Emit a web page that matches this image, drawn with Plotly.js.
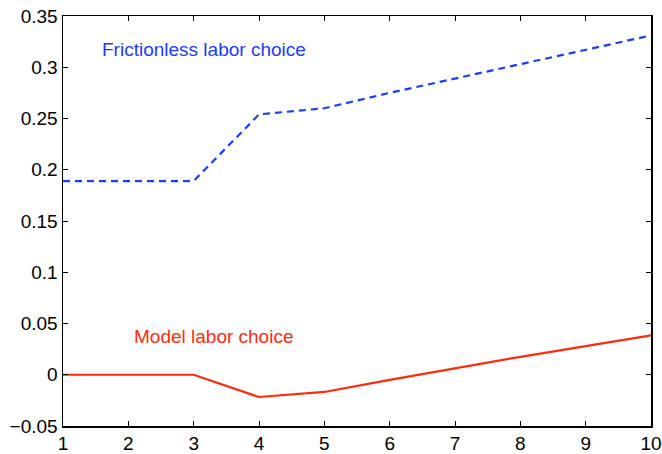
<!DOCTYPE html>
<html>
<head>
<meta charset="utf-8">
<script src="https://cdn.plot.ly/plotly-3.0.1.min.js"></script>
<style>html,body{margin:0;padding:0;background:#fff;}#chart{width:662px;height:454px;}</style>
</head>
<body>
<div id="chart"></div>
<script>
const periods = [1, 2, 3, 4, 5, 6, 7, 8, 9, 10];
const frictionless = [0.189, 0.189, 0.189, 0.254, 0.26, 0.275, 0.289, 0.303, 0.317, 0.331];
const model = [0, 0, 0, -0.0217, -0.0168, -0.005, 0.0065, 0.0175, 0.028, 0.0385];
const yTicks = [-0.05, 0, 0.05, 0.1, 0.15, 0.2, 0.25, 0.3, 0.35];
const yTickText = ["\u22120.05", "0", "0.05", "0.1", "0.15", "0.2", "0.25", "0.3", "0.35"];
const labelFrictionless = "Frictionless labor choice";
const labelModel = "Model labor choice";

const font = "Liberation Sans, Arial, Helvetica, sans-serif";
const traces = [
  {x: periods, y: frictionless, type: "scatter", mode: "lines",
   line: {color: "#1a3cff", width: 2.2, dash: "7px,5px"}, name: labelFrictionless},
  {x: periods, y: model, type: "scatter", mode: "lines",
   line: {color: "#ff2a0a", width: 2.2}, name: labelModel}
];
const layout = {
  width: 662, height: 454,
  margin: {l: 63, r: 11, t: 16, b: 28},
  paper_bgcolor: "#fff", plot_bgcolor: "#fff",
  showlegend: false,
  font: {family: font, size: 19, color: "#000"},
  xaxis: {range: [1, 10], tickvals: periods, ticks: "inside", ticklen: 5, tickwidth: 1,
          tickcolor: "#000", showline: true, linecolor: "#000", linewidth: 1.5, mirror: "ticks",
          showgrid: false, zeroline: false, tickfont: {family: font, size: 19, color: "#000"}},
  yaxis: {range: [-0.05, 0.35], tickvals: yTicks, ticktext: yTickText, ticks: "inside", ticklen: 5,
          tickwidth: 1, tickcolor: "#000", showline: true, linecolor: "#000", linewidth: 1.5,
          mirror: "ticks", showgrid: false, zeroline: false,
          tickfont: {family: font, size: 19, color: "#000"}},
  annotations: [
    {x: 1.567, y: 0.3178, xref: "x", yref: "y", text: labelFrictionless, showarrow: false,
     xanchor: "left", yanchor: "middle", font: {family: font, size: 19, color: "#1a3cff"}},
    {x: 2.05, y: 0.0378, xref: "x", yref: "y", text: labelModel, showarrow: false,
     xanchor: "left", yanchor: "middle", font: {family: font, size: 19, color: "#ff2a0a"}}
  ]
};
Plotly.newPlot("chart", traces, layout, {staticPlot: true, displayModeBar: false});
</script>
</body>
</html>
